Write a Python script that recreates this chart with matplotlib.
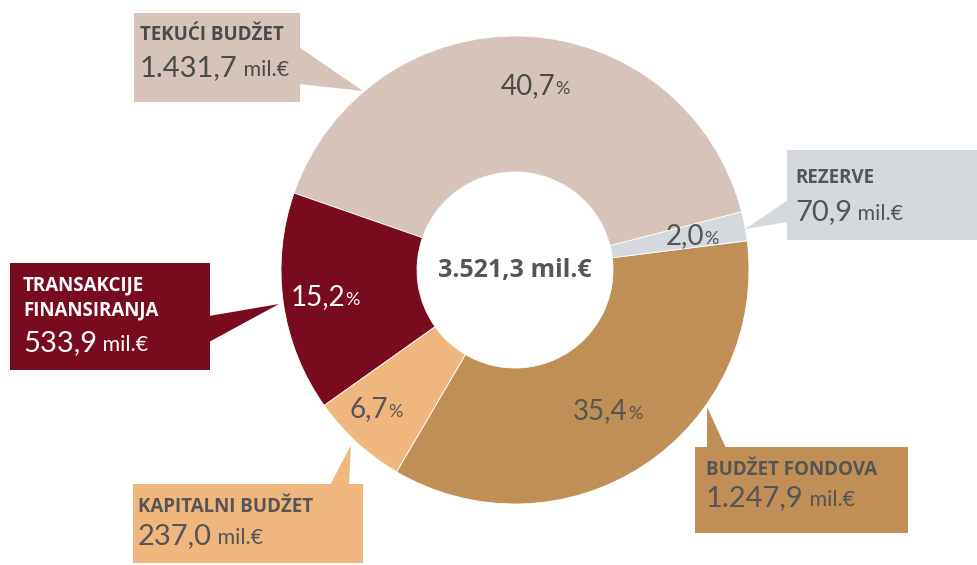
import matplotlib
matplotlib.use("Agg")
import matplotlib.pyplot as plt
import numpy as np
from matplotlib.patches import Rectangle, Polygon

plt.rcParams["font.family"] = ["Lato", "DejaVu Sans"]

# data (counterclockwise order, starting from the lower right)
categories = ["BUDŽET FONDOVA", "REZERVE", "TEKUĆI BUDŽET",
              "TRANSAKCIJE\nFINANSIRANJA", "KAPITALNI BUDŽET"]
values = [1247.9, 70.9, 1431.7, 533.9, 237.0]
total = 3521.3
colors = ["#bf8f55", "#d5d9dd", "#d6c4bb", "#790b1f", "#efb77d"]
text_colors = ["#555555", "#555555", "#4a4a4a", "white", "#555555"]

W, H = 977, 565
fig = plt.figure(figsize=(W / 100, H / 100), dpi=100)
ax = fig.add_axes([0, 0, 1, 1])


def py(y):
    # pixel row (from top) -> data y
    return H - y


cx, cy = 515, py(270)
R, r_in = 234, 98

wedges, _ = ax.pie(values, colors=colors, startangle=-120.4, counterclock=True,
                   radius=R, center=(cx, cy), frame=True,
                   wedgeprops=dict(width=R - r_in, edgecolor="white", linewidth=0.6))
ax.set_xlim(0, W)
ax.set_ylim(0, H)
ax.axis("off")

fig.canvas.draw()
renderer = fig.canvas.get_renderer()
inv = ax.transData.inverted()

SANS_BOLD = ["Open Sans", "DejaVu Sans"]


def fmt(v, nd=1):
    s = f"{v:,.{nd}f}"
    return s.replace(",", "X").replace(".", ",").replace("X", ".")


def two_size(x, y, big, small, size_big, size_small, color, center=False,
             weight_big="normal", weight_small="normal", gap=0, family=None):
    kw = {} if family is None else {"family": family}
    t1 = ax.text(x, y, big, fontsize=size_big, color=color, ha="left",
                 va="baseline", fontweight=weight_big, zorder=5, **kw)
    bb = t1.get_window_extent(renderer)
    x1 = inv.transform((bb.x1, bb.y0))[0]
    t2 = ax.text(x1 + gap, y, small, fontsize=size_small, color=color, ha="left",
                 va="baseline", fontweight=weight_small, zorder=5, **kw)
    if center:
        bb2 = t2.get_window_extent(renderer)
        x2 = inv.transform((bb2.x1, bb2.y0))[0]
        shift = (x2 - x) / 2
        t1.set_x(x - shift)
        t2.set_x(x1 + gap - shift)


# percentage labels inside the ring
label_dist = [0.72, 0.77, 0.79, 0.82, 0.84]
label_rot = [0, 0, -3.9, 0, -2.4]
for w, v, tc, d, rot in zip(wedges, values, text_colors, label_dist, label_rot):
    ang = np.deg2rad((w.theta1 + w.theta2) / 2 + rot)
    lx = cx + R * d * np.cos(ang)
    ly = cy + R * d * np.sin(ang) - 8
    two_size(lx, ly, fmt(v / total * 100), "%", 20, 13, tc, center=True)

# centre total
two_size(515, py(270) - 7, fmt(total), " mil.€", 18, 18, "#555555",
         center=True, weight_big="bold", weight_small="bold", family=SANS_BOLD)

# callout boxes: (x0, y0, x1, y1) in pixels, pointer polygon, text start
boxes = [
    ((695, 447, 908, 533), [(707, 448), (726, 448), (707, 407)], 706, 475, 506),
    ((787, 150, 977, 240), [(788, 200), (788, 222), (745, 229)], 795, 183, 220),
    ((134, 13, 300, 102), [(299, 47), (299, 84), (363, 91)], 140, 40, 76),
    ((10, 263, 210, 370), [(209, 316), (209, 342), (279, 304)], 23, 315, 351),
    ((133, 484, 363, 563), [(330, 485), (349, 485), (351, 445)], 138, 512, 544),
]

for (box, tri, tx, ty_title, ty_val), cat, v, c, tc in zip(
        boxes, categories, values, colors, text_colors):
    x0, y0, x1, y1 = box
    ax.add_patch(Rectangle((x0, py(y1)), x1 - x0, y1 - y0, facecolor=c,
                           edgecolor="none", zorder=3))
    ax.add_patch(Polygon([(px, py(pyy)) for px, pyy in tri], closed=True,
                         facecolor=c, edgecolor="none", zorder=3))
    ax.text(tx, py(ty_title), cat, fontsize=13.5, fontweight="bold", color=tc,
            family=SANS_BOLD, ha="left", va="baseline", linespacing=1.3,
            zorder=5)
    two_size(tx, py(ty_val), fmt(v), " mil.€", 21, 15.5, tc)

fig.savefig("out.png", dpi=100)
